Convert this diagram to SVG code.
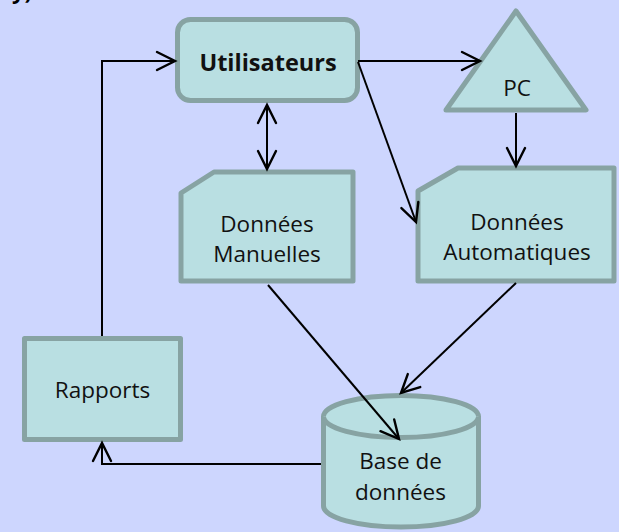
<svg xmlns="http://www.w3.org/2000/svg" width="619" height="532" viewBox="0 0 619 532">
<defs>
<style>
.shape{fill:#b9dfe2;stroke:#87a3a3;stroke-width:5;stroke-linejoin:round}
.lbl{font-family:"Open Sans","Noto Sans",sans-serif;font-size:22.5px;fill:#111;text-anchor:middle}
.bold{font-weight:bold;font-size:23.5px}
.conn{fill:none;stroke:#000;stroke-width:2}
</style>
<marker id="arr" markerUnits="userSpaceOnUse" markerWidth="24" markerHeight="24" viewBox="0 0 24 24" refX="21" refY="12" orient="auto-start-reverse">
<path d="M3,3 L21,12 L3,21" fill="none" stroke="#000" stroke-width="2.4" stroke-linecap="round" stroke-linejoin="miter"/>
</marker>
</defs>
<rect width="619" height="532" fill="#cdd6fe"/>
<text x="12" y="-1" style="font-family:'Open Sans','Noto Sans',sans-serif;font-size:22px;font-weight:bold;fill:#000">y)</text>
<g id="utilisateurs">
<rect class="shape" x="177.5" y="19.5" width="180" height="81" rx="13"/>
<text class="lbl bold" x="268" y="71">Utilisateurs</text>
</g>
<g id="pc">
<polygon class="shape" points="516,11 586,110 446,110"/>
<text class="lbl" x="517" y="96">PC</text>
</g>
<g id="donnees-manuelles">
<polygon class="shape" points="214,172 353,172 353,281 181,281 181,193"/>
<text class="lbl" x="267" y="232">Données</text>
<text class="lbl" x="267" y="262">Manuelles</text>
</g>
<g id="donnees-automatiques">
<polygon class="shape" points="458,168 614,168 614,281 418,281 418,191"/>
<text class="lbl" x="517" y="230">Données</text>
<text class="lbl" x="517" y="260">Automatiques</text>
</g>
<g id="rapports">
<rect class="shape" x="24.5" y="338.5" width="156" height="101"/>
<text class="lbl" x="102.5" y="398">Rapports</text>
</g>
<g id="base-de-donnees">
<path class="shape" d="M323.5,416.5 A77.5,21 0 0 1 478.5,416.5 V506 A77.5,21 0 0 1 323.5,506 Z"/>
<path class="shape" d="M323.5,416.5 A77.5,21 0 0 0 478.5,416.5" fill="none"/>
<text class="lbl" x="400.5" y="469">Base de</text>
<text class="lbl" x="400.5" y="500">données</text>
</g>
<g id="connectors">
<path class="conn" d="M102,336 V61 H175" marker-end="url(#arr)"/>
<path class="conn" d="M358,61 H480" marker-end="url(#arr)"/>
<path class="conn" d="M358,62 L416,222" marker-end="url(#arr)"/>
<path class="conn" d="M267,105 V169" marker-start="url(#arr)" marker-end="url(#arr)"/>
<path class="conn" d="M516,113 V166" marker-end="url(#arr)"/>
<path class="conn" d="M268,285 L399,439" marker-end="url(#arr)"/>
<path class="conn" d="M516,283 L401,393" marker-end="url(#arr)"/>
<path class="conn" d="M321,464 H102 V443" marker-end="url(#arr)"/>
</g>
</svg>
